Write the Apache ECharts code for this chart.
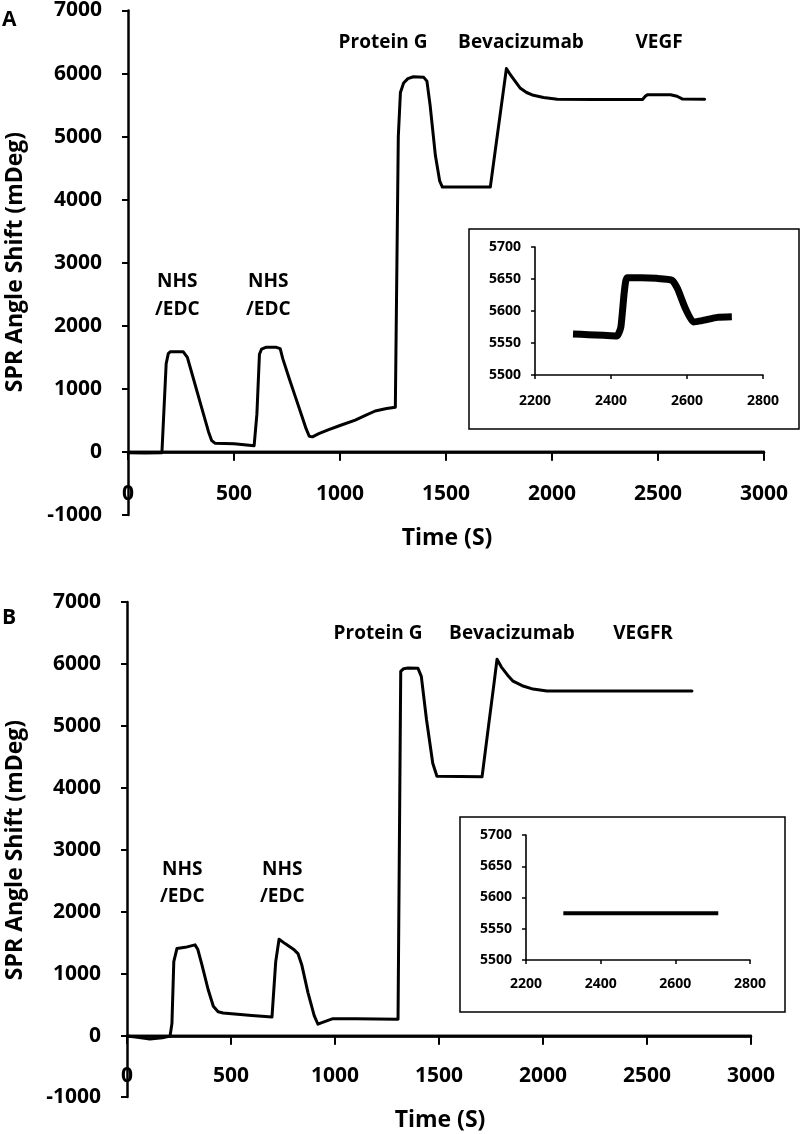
<!DOCTYPE html>
<html>
<head>
<meta charset="utf-8">
<script src="https://cdn.jsdelivr.net/npm/echarts@6/dist/echarts.min.js"></script>
<style>html,body{margin:0;padding:0;background:#fff}#c{width:800px;height:1134px}</style>
</head>
<body>
<div id="c"></div>
<script>
// ---- Data ----
// Panel A main sensorgram
const timeA  = [0,80,160,165,180,190,200,260,280,300,350,380,395,410,500,595,600,608,620,630,650,700,718,730,760,790,820,840,855,870,900,944,1000,1072,1120,1166,1220,1261,1268,1275,1285,1300,1320,1346,1395,1410,1425,1450,1470,1483,1600,1709,1740,1770,1785,1800,1830,1851,1880,1912,1960,2025,2200,2427,2440,2450,2559,2590,2616,2720];
const shiftA = [-10,-15,-10,0,1400,1560,1590,1590,1500,1264,673,318,180,140,130,100,100,600,1550,1630,1660,1660,1640,1480,1170,870,570,370,250,240,290,350,420,505,580,650,690,710,720,5000,5700,5850,5920,5950,5940,5880,5500,4700,4300,4200,4200,4200,4970,5710,6080,6000,5860,5766,5700,5655,5620,5592,5590,5590,5640,5665,5665,5640,5595,5592];
// Panel A inset (VEGF binding)
const timeAi  = [2300,2340,2380,2416,2426,2435,2442,2480,2520,2561,2575,2595,2616,2640,2680,2718];
const shiftAi = [5564,5563,5562,5561,5575,5630,5652,5652,5651,5648,5635,5605,5583,5585,5590,5591];
// Panel B main sensorgram
const timeB  = [0,50,110,170,207,216,225,240,280,327,340,360,390,415,438,462,600,697,705,715,731,760,800,822,840,870,900,918,940,990,1100,1303,1312,1316,1330,1351,1399,1415,1440,1470,1490,1707,1740,1765,1779,1800,1830,1856,1900,1952,2019,2200,2716];
const shiftB = [0,-20,-50,-30,0,200,1200,1410,1430,1470,1400,1150,750,480,390,370,330,305,320,1200,1560,1490,1400,1330,1150,700,330,190,220,280,280,270,300,5880,5925,5935,5930,5800,5100,4400,4190,4180,5050,5700,6077,5950,5820,5723,5650,5595,5563,5565,5565];
// Panel B inset (VEGFR)
const timeBi  = [2300,2715];
const shiftBi = [5575,5575];

// Axis ticks
const mainX  = {min:0, max:3000, interval:500};
const mainXTicks = [500,1000,1500,2000,2500,3000];
const mainYp = {min:0, max:7000, interval:1000};     // positive part of the main y axis
const mainYn = {min:-1000, max:0, interval:1000};    // negative part below the time axis
const insX   = {min:2200, max:2800, interval:200};
const insY   = {min:5500, max:5700, interval:50};

// Annotations
const stepLabels = ['Protein G','Bevacizumab','NHS','/EDC'];
const FONT = 'Open Sans';

function pairs(t, v){ return t.map((x,i)=>[x, v[i]]); }
const plain = v => String(v);

// layout of the grids
const G = {
  aUp:{left:128, top:9,   width:636, height:443},
  aLo:{left:128, top:452, width:636, height:63},
  aIn:{left:535, top:247, width:228, height:128},
  bUp:{left:127, top:602, width:624, height:434},
  bLo:{left:127, top:1036,width:624, height:61},
  bIn:{left:526, top:835, width:224, height:125}
};

const chart = echarts.init(document.getElementById('c'), null, {renderer:'canvas'});

function lbl(size, margin){ return {show:true, color:'#000', fontFamily:FONT, fontWeight:'bold', fontSize:size, margin:margin, formatter:plain}; }

function xMain(grid, margin){
  return {type:'value', gridIndex:grid, position:'bottom', min:mainX.min, max:mainX.max, interval:mainX.interval,
    splitLine:{show:false},
    axisLine:{show:true, onZero:false, lineStyle:{color:'#000', width:2.5}},
    axisTick:{show:true, length:8, lineStyle:{color:'#000', width:2}},
    axisLabel:lbl(21, margin)};
}
function xHidden(grid){
  return {type:'value', gridIndex:grid, min:mainX.min, max:mainX.max, interval:mainX.interval, show:false};
}
function yMain(grid, r, extra){
  return Object.assign({type:'value', gridIndex:grid, min:r.min, max:r.max, interval:r.interval,
    splitLine:{show:false},
    axisLine:{show:true, onZero:false, lineStyle:{color:'#000', width:2.5}},
    axisTick:{show:true, length:6, lineStyle:{color:'#000', width:2}},
    axisLabel:lbl(21, 26)}, extra||{});
}
function xIns(grid, margin){
  return {type:'value', gridIndex:grid, min:insX.min, max:insX.max, interval:insX.interval,
    splitLine:{show:false},
    axisLine:{show:true, onZero:false, lineStyle:{color:'#000', width:1.6}},
    axisTick:{show:true, length:4, lineStyle:{color:'#000', width:1.5}},
    axisLabel:lbl(14, margin)};
}
function yIns(grid){
  return {type:'value', gridIndex:grid, min:insY.min, max:insY.max, interval:insY.interval,
    splitLine:{show:false},
    axisLine:{show:true, onZero:false, lineStyle:{color:'#000', width:1.6}},
    axisTick:{show:true, length:4, lineStyle:{color:'#000', width:1.5}},
    axisLabel:lbl(14, 14)};
}

function txt(text, x, y, size, align, rot){
  return {type:'text', x:x, y:y, rotation:rot||0, z:10,
    style:{text:text, x:0, y:0, fill:'#000', font:'bold '+size+'px "'+FONT+'"', textAlign:align||'left', textVerticalAlign:'middle'}};
}

const mainLine = {color:'#000', width:3, join:'round', cap:'round'};

// zero (time) axis line and downward ticks in the upper grid
function zeroLineSeries(xi, yi){
  return {type:'line', xAxisIndex:xi, yAxisIndex:yi, data:[[mainX.min,0],[mainX.max,0]], clip:false, silent:true,
    showSymbol:false, symbol:'none', z:5, lineStyle:{color:'#000', width:2.5}};
}
function zeroTickSeries(xi, yi){
  return {type:'scatter', xAxisIndex:xi, yAxisIndex:yi, data:mainXTicks.map(v=>[v,0]), clip:false, silent:true,
    symbol:'rect', symbolSize:[2,9], symbolOffset:[0,4.5], z:5, itemStyle:{color:'#000'}};
}
// fallback: the same zero line as a graphic bar on the shared edge of the upper/lower grids
function zeroBar(g){
  return {type:'rect', z:50, shape:{x:g.left, y:g.top+g.height-1.25, width:g.width+1, height:2.5}, style:{fill:'#000'}};
}
function zeroTicks(g){
  return mainXTicks.map(function(v){
    const x = g.left + (v - mainX.min) / (mainX.max - mainX.min) * g.width;
    return {type:'rect', z:50, shape:{x:x-1, y:g.top+g.height, width:2, height:8}, style:{fill:'#000'}};
  });
}

const graphics = [
  {type:'rect', shape:{x:469, y:229, width:330, height:200}, style:{fill:null, stroke:'#000', lineWidth:1.5}, z:-1},
  {type:'rect', shape:{x:460, y:817, width:325, height:195}, style:{fill:null, stroke:'#000', lineWidth:1.5}, z:-1},
  zeroBar(G.aUp), zeroBar(G.bUp)
].concat(zeroTicks(G.aUp), zeroTicks(G.bUp), [
  txt('A', 2, 20, 21, 'left'),
  txt('B', 2, 618, 21, 'left'),
  txt('SPR Angle Shift (mDeg)', 15, 262, 23, 'center', Math.PI/2),
  txt('SPR Angle Shift (mDeg)', 15, 850, 23, 'center', Math.PI/2),
  txt('Time (S)', 447, 538, 23, 'center'),
  txt('Time (S)', 440, 1120, 23, 'center'),
  txt(stepLabels[0], 383, 43, 19, 'center'),
  txt(stepLabels[1], 521, 43, 19, 'center'),
  txt('VEGF', 659, 43, 19, 'center'),
  txt(stepLabels[2], 157, 282, 19, 'left'),
  txt(stepLabels[3], 155, 310, 19, 'left'),
  txt(stepLabels[2], 248, 282, 19, 'left'),
  txt(stepLabels[3], 246, 310, 19, 'left'),
  txt(stepLabels[0], 378, 634, 19, 'center'),
  txt(stepLabels[1], 512, 634, 19, 'center'),
  txt('VEGFR', 643, 634, 19, 'center'),
  txt(stepLabels[2], 162, 870, 19, 'left'),
  txt(stepLabels[3], 160, 897, 19, 'left'),
  txt(stepLabels[2], 262, 870, 19, 'left'),
  txt(stepLabels[3], 260, 897, 19, 'left')
]);

const option = {
  backgroundColor:'#fff',
  animation:false,
  grid:[G.aUp, G.aLo, G.aIn, G.bUp, G.bLo, G.bIn],
  xAxis:[
    xMain(0, 32),
    xHidden(1),
    xIns(2, 19),
    xMain(3, 30),
    xHidden(4),
    xIns(5, 17)
  ],
  yAxis:[
    yMain(0, mainYp),
    yMain(1, mainYn, {axisLabel:Object.assign(lbl(21,26), {showMaxLabel:false})}),
    yIns(2),
    yMain(3, mainYp),
    yMain(4, mainYn, {axisLabel:Object.assign(lbl(21,26), {showMaxLabel:false})}),
    yIns(5)
  ],
  series:[
    zeroLineSeries(0, 0),
    zeroTickSeries(0, 0),
    zeroLineSeries(3, 3),
    zeroTickSeries(3, 3),
    {type:'line', xAxisIndex:0, yAxisIndex:0, data:pairs(timeA, shiftA), clip:false, showSymbol:false, smooth:false, z:6, lineStyle:mainLine},
    {type:'line', xAxisIndex:2, yAxisIndex:2, data:pairs(timeAi, shiftAi), showSymbol:false, smooth:0.15, lineStyle:{color:'#000', width:7, join:'round'}},
    {type:'line', xAxisIndex:3, yAxisIndex:3, data:pairs(timeB, shiftB), clip:false, showSymbol:false, smooth:false, z:6, lineStyle:mainLine},
    {type:'line', xAxisIndex:5, yAxisIndex:5, data:pairs(timeBi, shiftBi), showSymbol:false, lineStyle:{color:'#000', width:4}}
  ],
  graphic:graphics
};
chart.setOption(option);
</script>
</body>
</html>
